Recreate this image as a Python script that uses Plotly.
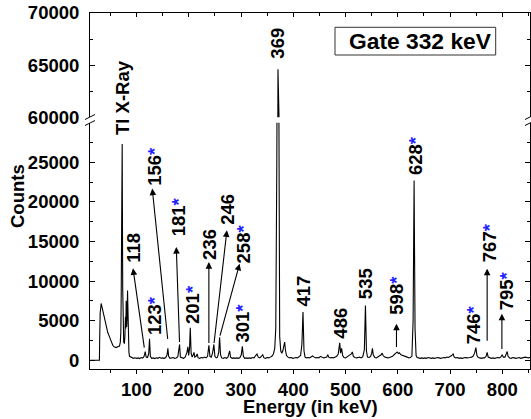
import plotly.graph_objects as go

# ---- spectrum (energy in keV, counts) ----
energy = [11, 29, 29.6, 30.5, 32.4, 34, 35.5, 38, 42, 45, 48.3, 51, 54.6, 57, 61, 64, 67.4, 69, 70, 70.7,
          71.3, 71.9, 72.6, 73.6, 74.5, 75.5, 76.8, 77.8, 78.8, 79.5, 80.3, 81.2, 82.1, 82.8, 83.6, 84.5,
          85.5, 86.6, 88, 91, 94, 97, 100, 103, 106, 109, 112, 114.5, 116.7, 118.5, 121, 123.3, 124.9,
          126.5, 129, 132, 135, 138, 141, 144, 147, 150, 153, 156, 158.5, 160, 161.5, 164, 167, 170, 173,
          176, 179, 180.8, 182.4, 184, 187, 190, 193, 196.5, 198.3, 199.8, 201.5, 202.9, 204.5, 206.5,
          208.5, 210, 211.5, 214, 216, 218, 221, 224, 227, 230, 233, 236, 238.5, 240.5, 243, 245.5, 248.1,
          250, 252.5, 255, 257.3, 259, 260.8, 263, 266, 269, 272, 275, 278.2, 280, 283, 286, 289, 292, 295,
          298, 300.5, 302.5, 304.5, 307, 310, 313, 316, 319, 322, 325, 328, 330.5, 333, 336, 339, 341.5,
          344, 347, 350, 353, 356, 359, 362, 364.5, 366.5, 368.5, 370.7, 372.5, 374, 376, 378, 380, 382,
          383.5, 385, 387, 390, 393, 396, 399, 402, 405, 408, 411, 414, 416.5, 418.6, 420.5, 422.5, 425,
          428, 431, 434, 437, 440, 443, 446, 449, 452, 455, 458, 461, 464, 466, 468, 471, 474, 477, 480,
          483, 486, 488.9, 490.5, 492.5, 494.5, 497, 500, 503, 506, 509, 511, 513, 515, 518, 521, 524, 527,
          530, 533, 536, 538.1, 540, 542, 545, 548, 550, 551.5, 553, 556, 559, 562, 565, 568, 570, 572,
          575, 578, 581, 584, 587, 590, 593, 596, 598.7, 601, 603, 606, 609, 612, 615, 618, 621, 624, 627,
          629.3, 631.2, 633, 635, 637, 640, 643, 646, 649, 652, 655, 658, 661, 664, 667, 670, 673, 676,
          679, 682, 685, 688, 691, 694, 697, 700, 703, 705.9, 708, 711, 714, 717, 720, 723, 726, 729, 732,
          735, 738, 741, 744, 747, 749.4, 751.5, 754, 757, 760, 763, 766, 769, 771, 773, 776, 779, 782,
          785, 788, 791, 794, 797, 799.8, 802, 805, 807.5, 809.4, 811, 814, 817, 820, 823, 826, 829, 832,
          835, 838, 841, 844, 847, 850, 853]
counts = [0, 0, 3000, 6000, 7170, 6700, 6100, 5200, 4200, 3500, 2950, 2400, 1900, 1700, 1600, 1700, 1800,
          2300, 3500, 8000, 24000, 14000, 27300, 9000, 3000, 2300, 2100, 3000, 5500, 4000, 7500, 4200, 5500,
          8800, 5000, 2000, 1000, 500, 450, 300, 250, 320, 250, 300, 220, 350, 280, 500, 1100, 400, 350, 800,
          2700, 500, 250, 300, 220, 320, 250, 380, 260, 300, 250, 350, 700, 1500, 500, 250, 300, 350, 250,
          300, 450, 1200, 2000, 400, 300, 250, 400, 1000, 1700, 600, 1500, 4100, 900, 400, 700, 1000, 400,
          500, 800, 300, 250, 350, 300, 400, 300, 500, 1900, 500, 400, 900, 2000, 500, 300, 400, 1000, 2900,
          700, 300, 250, 350, 250, 400, 1200, 400, 250, 300, 250, 300, 250, 350, 700, 1760, 500, 250, 300,
          250, 300, 250, 350, 300, 600, 800, 400, 300, 500, 700, 300, 250, 350, 300, 400, 500, 800, 1500,
          4000, 25000, 64600, 20000, 3000, 1200, 900, 1200, 1800, 2300, 1300, 600, 400, 300, 350, 250, 300,
          350, 300, 400, 600, 2000, 6100, 1200, 400, 300, 350, 300, 450, 550, 400, 300, 350, 300, 500, 400,
          300, 350, 400, 700, 400, 300, 350, 300, 400, 500, 800, 2200, 900, 1500, 600, 350, 300, 450, 600,
          700, 800, 1050, 500, 350, 300, 350, 400, 300, 450, 1300, 6900, 1200, 400, 350, 500, 900, 1500, 700,
          350, 300, 400, 500, 700, 900, 600, 400, 350, 300, 350, 400, 500, 700, 900, 1050, 850, 950, 700,
          600, 500, 450, 400, 300, 350, 500, 5000, 22700, 4000, 600, 350, 300, 250, 300, 250, 300, 250, 350,
          300, 250, 300, 250, 300, 350, 300, 250, 300, 350, 300, 400, 350, 450, 600, 800, 400, 300, 350,
          250, 300, 250, 300, 350, 300, 300, 350, 400, 500, 900, 1600, 600, 350, 300, 250, 300, 300, 500,
          1000, 400, 300, 250, 300, 250, 300, 350, 300, 400, 700, 400, 400, 700, 1100, 500, 300, 250, 350,
          300, 250, 300, 350, 250, 300, 350, 400, 350, 300, 350]

# ---- peak labels (text, starred) ----
peak_text = ["118", "123", "156", "181", "201", "236", "246", "258", "301",
             "417", "486", "535", "598", "628", "746", "767", "795"]
peak_star = [False, True, True, True, True, False, False, True, True,
             False, False, False, True, True, True, True, True]
# label centres (keV, counts on the lower axis)
peak_lx = [94.3, 134.5, 134.5, 180.5, 207.3, 239.8, 274.3, 304.0, 302.0,
           419.0, 489.8, 538.7, 597.1, 633.5, 745.6, 774.3, 806.9]
peak_ly = [14134, 5650, 24500, 18116, 7054, 14639, 19064, 14639, 4652,
           8698, 4652, 9709, 8192, 25827, 4526, 14892, 8824]

# arrows: tail (near peak) -> head (near label)
arrow_tail_x = [115.3, 160.0, 182.4, 238.5, 248.1, 259.0, 597.5, 771.0, 799.2]
arrow_tail_y = [1403, 2503, 2124, 2000, 2000, 2920, 1492, 2288, 1239]
arrow_head_x = [93.3, 130.1, 176.1, 238.5, 273.0, 297.3, 597.5, 771.0, 799.2]
arrow_head_y = [11605, 21681, 14298, 12402, 16410, 12199, 4614, 11567, 5878]

x_ticks = [100, 200, 300, 400, 500, 600, 700, 800]
y_low_ticks = [0, 5000, 10000, 15000, 20000, 25000]
y_up_ticks = [60000, 65000, 70000]

FONT = "Liberation Sans, Arial, sans-serif"
FS = 18.5
L, R, T, B = 90, 1, 13, 50
W, H = 531, 419
PW, PH = W - L - R, H - T - B
LOW_TOP = 0.692
UP_BOT = 0.7075


def px2paper_x(px):
    return (px - L) / PW


def py2paper_y(py):
    return (H - B - py) / PH


fig = go.Figure()
line = dict(color="black", width=1.1)
fig.add_trace(go.Scatter(x=energy, y=counts, mode="lines", line=line, xaxis="x", yaxis="y",
                         hoverinfo="skip", showlegend=False))
fig.add_trace(go.Scatter(x=energy, y=counts, mode="lines", line=line, xaxis="x2", yaxis="y2",
                         hoverinfo="skip", showlegend=False))

tickfont = dict(family=FONT, size=FS, color="black", weight="bold")
common_ax = dict(showline=True, linecolor="black", linewidth=1, showgrid=False, zeroline=False,
                 tickcolor="black", tickwidth=1)

fig.update_layout(
    width=W, height=H,
    margin=dict(l=L, r=R, t=T, b=B, pad=0),
    paper_bgcolor="white", plot_bgcolor="white",
    font=dict(family=FONT, size=FS, color="black", weight="bold"),
    xaxis=dict(domain=[0, 1], range=[11, 853], anchor="y", tickvals=x_ticks,
               ticktext=[str(v) for v in x_ticks], ticks="outside",
               ticklen=4, tickfont=tickfont, minor=dict(dtick=50, tick0=0, ticks="outside", ticklen=2.5,
                                                        tickcolor="black"),
               **common_ax),
    xaxis2=dict(domain=[0, 1], anchor="y2", side="top", matches="x", tickvals=x_ticks, ticks="inside",
                ticklen=4, showticklabels=False,
                minor=dict(dtick=50, tick0=0, ticks="inside", ticklen=2.5, tickcolor="black"),
                **common_ax),
    yaxis=dict(domain=[0, LOW_TOP], range=[-1100, 30000], anchor="x", tickvals=y_low_ticks,
               ticktext=[str(v) for v in y_low_ticks],
               ticks="inside", ticklen=5, mirror="ticks", tickfont=tickfont, ticklabelstandoff=6,
               minor=dict(dtick=2500, tick0=0, ticks="inside", ticklen=2.7, tickcolor="black"),
               **common_ax),
    yaxis2=dict(domain=[UP_BOT, 1], range=[60000, 70000], anchor="x2", tickvals=y_up_ticks,
                ticktext=[str(v) for v in y_up_ticks],
                ticks="inside", ticklen=5, mirror="ticks", tickfont=tickfont, ticklabelstandoff=6,
                minor=dict(dtick=2500, tick0=0, ticks="inside", ticklen=2.7, tickcolor="black"),
                **common_ax),
)

ann = []
afont = dict(family=FONT, size=FS, color="black", weight="bold")
for t, s, lx, ly in zip(peak_text, peak_star, peak_lx, peak_ly):
    txt = t + ("<span style='color:#1f1fff'>*</span>" if s else "")
    ann.append(dict(x=lx, y=ly, xref="x", yref="y", text=txt, textangle=-90, showarrow=False,
                    xanchor="center", yanchor="middle", font=afont))

for tx, ty, hx, hy in zip(arrow_tail_x, arrow_tail_y, arrow_head_x, arrow_head_y):
    ann.append(dict(x=hx, y=hy, ax=tx, ay=ty, xref="x", yref="y", axref="x", ayref="y", text="",
                    showarrow=True, arrowhead=2, arrowsize=1.2, arrowwidth=1.1, arrowcolor="black",
                    standoff=0, startstandoff=0))

# Tl X-Ray and 369 labels (span the break)
ann.append(dict(x=72.2, y=py2paper_y(97), xref="x", yref="paper", text="Tl X-Ray", textangle=-90,
                showarrow=False, xanchor="center", yanchor="middle", font=afont))
ann.append(dict(x=370.1, y=py2paper_y(43), xref="x", yref="paper", text="369", textangle=-90,
                showarrow=False, xanchor="center", yanchor="middle", font=afont))
# Gate label
ann.append(dict(x=px2paper_x(420.8), y=py2paper_y(41.3), xref="paper", yref="paper", text="Gate 332 keV",
                showarrow=False, xanchor="center", yanchor="middle",
                font=dict(family=FONT, size=22.8, color="black", weight="bold")))
# axis titles
ann.append(dict(x=px2paper_x(17), y=py2paper_y(196), xref="paper", yref="paper", text="Counts",
                textangle=-90, showarrow=False, xanchor="center", yanchor="middle", font=afont))
ann.append(dict(x=px2paper_x(310), y=py2paper_y(406.5), xref="paper", yref="paper", text="Energy (in keV)",
                showarrow=False, xanchor="center", yanchor="middle", font=afont))
fig.update_layout(annotations=ann)

shapes = [dict(type="rect", xref="paper", yref="paper", x0=px2paper_x(335), x1=px2paper_x(495.7),
               y0=py2paper_y(55), y1=py2paper_y(27.3), line=dict(color="#333333", width=1))]
for xc in (90, 530):
    for dy in (0, 6):
        shapes.append(dict(type="line", xref="paper", yref="paper",
                           x0=px2paper_x(xc - 5), y0=py2paper_y(119.5 + dy),
                           x1=px2paper_x(xc + 5), y1=py2paper_y(114.5 + dy),
                           line=dict(color="black", width=1)))
fig.update_layout(shapes=shapes)

fig.write_html("out.html", config={"displayModeBar": False},
               post_script="document.body.style.margin='0px';document.body.style.overflow='hidden';")
